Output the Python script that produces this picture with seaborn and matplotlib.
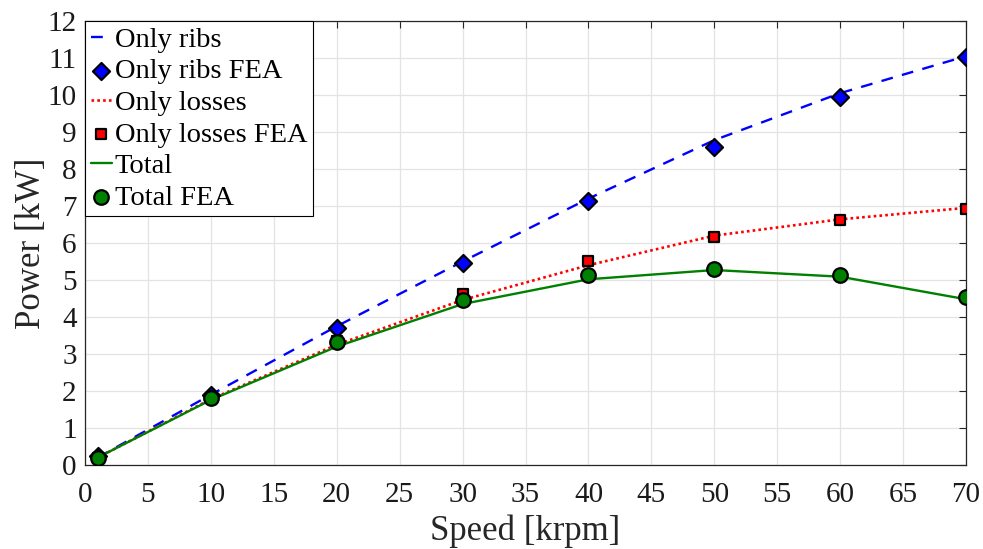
import numpy as np
import pandas as pd
import matplotlib
matplotlib.use("Agg")
import matplotlib.pyplot as plt
import seaborn as sns

speed = [1, 10, 20, 30, 40, 50, 60, 70]
ribs_line = [0.2, 1.9, 3.75, 5.5, 7.2, 8.78, 10.05, 11.05]
ribs_fea = [0.25, 1.9, 3.7, 5.47, 7.14, 8.6, 9.94, 11.04]
loss_line = [0.2, 1.78, 3.25, 4.46, 5.4, 6.2, 6.64, 6.95]
loss_fea = [0.2, 1.8, 3.35, 4.62, 5.51, 6.16, 6.62, 6.93]
total_line = [0.2, 1.76, 3.2, 4.35, 5.02, 5.27, 5.09, 4.48]
total_fea = [0.2, 1.8, 3.32, 4.46, 5.13, 5.3, 5.14, 4.53]

xticks = list(range(0, 75, 5))
yticks = list(range(0, 13))

sns.set_theme(style="whitegrid")
plt.rcParams['font.family'] = ['Liberation Serif', 'DejaVu Serif']
plt.rcParams['mathtext.fontset'] = 'stix'

fig = plt.figure(figsize=(9.83, 5.49), dpi=100)
ax = fig.add_axes([0.0865, 0.153, 0.8962, 0.8087])

df = pd.DataFrame({"speed": speed, "ribs_line": ribs_line, "ribs_fea": ribs_fea,
                   "loss_line": loss_line, "loss_fea": loss_fea,
                   "total_line": total_line, "total_fea": total_fea})

sns.lineplot(data=df, x="speed", y="ribs_line", ax=ax, color="#0000FF",
             linestyle=(0, (5, 4)), linewidth=1.7, label="Only ribs")
sns.scatterplot(data=df, x="speed", y="ribs_fea", ax=ax, marker="D", s=75,
                color="#0000FF", edgecolor="black", linewidth=1.6, label="Only ribs FEA", zorder=5)
sns.lineplot(data=df, x="speed", y="loss_line", ax=ax, color="#FF0000",
             linestyle=(0, (1, 1.2)), linewidth=1.9, label="Only losses")
sns.scatterplot(data=df, x="speed", y="loss_fea", ax=ax, marker="s", s=60,
                color="#FF0000", edgecolor="black", linewidth=1.6, label="Only losses FEA", zorder=5)
sns.lineplot(data=df, x="speed", y="total_line", ax=ax, color="#008000",
             linestyle="-", linewidth=1.7, label="Total")
sns.scatterplot(data=df, x="speed", y="total_fea", ax=ax, marker="o", s=110,
                color="#008000", edgecolor="black", linewidth=1.6, label="Total FEA", zorder=6)

ax.set_xlim(0, 70)
ax.set_ylim(0, 12)
ax.set_xticks(xticks)
ax.set_yticks(yticks)
ax.set_xlabel("Speed [krpm]", fontsize=25, labelpad=5, color="#262626")
ax.set_ylabel("Power [kW]", fontsize=25, labelpad=0, color="#262626")
ax.tick_params(axis="both", which="both", direction="in", length=5, width=0.8,
               labelsize=21, top=True, right=True, colors="#262626", labelcolor="#1a1a1a")
ax.tick_params(axis="x", pad=12)
ax.tick_params(axis="y", pad=6)
ax.grid(True, color="#E3E3E3", linewidth=0.9)
ax.set_facecolor("white")
for sp in ax.spines.values():
    sp.set_color("#262626")
    sp.set_linewidth(0.9)

leg = ax.legend(loc="upper left", fontsize=20.5, frameon=True, fancybox=False,
                edgecolor="black", framealpha=1, borderpad=0.2, borderaxespad=0,
                handlelength=0.75, handletextpad=0.1, labelspacing=0.2)
leg.get_frame().set_linewidth(0.8)
for t in leg.get_texts():
    t.set_color("black")

fig.savefig("out.png", dpi=100, facecolor="white")
